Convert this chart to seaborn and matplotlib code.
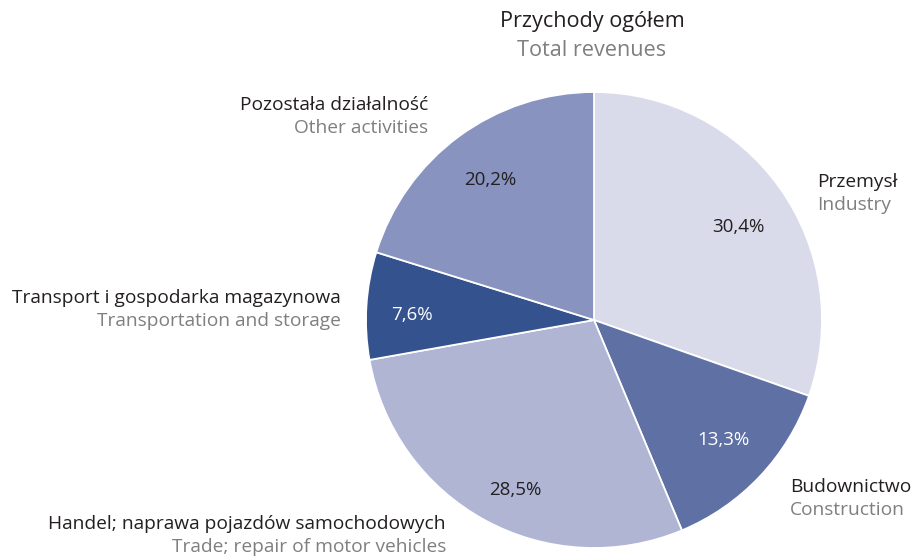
import matplotlib
matplotlib.use("Agg")
import matplotlib.pyplot as plt
import seaborn as sns

# dane
kategorie_pl = ['Przemysł', 'Budownictwo', 'Handel; naprawa pojazdów samochodowych',
                'Transport i gospodarka magazynowa', 'Pozostała działalność']
kategorie_en = ['Industry', 'Construction', 'Trade; repair of motor vehicles',
                'Transportation and storage', 'Other activities']
udzialy = [30.4, 13.3, 28.5, 7.6, 20.2]
kolory = ['#d9dbea', '#5f71a4', '#b0b5d4', '#33528e', '#8893bf']
kolor_pct = ['#231f20', 'white', '#231f20', 'white', '#231f20']

sns.set_style("white")
plt.rcParams['font.family'] = ['Open Sans', 'DejaVu Sans']

W, H = 915, 558
cx, cy, R = 594, 320, 228

fig = plt.figure(figsize=(W / 100, H / 100), dpi=100)
ax = fig.add_axes([(cx - R) / W, (H - cy - R) / H, 2 * R / W, 2 * R / H])

wedges, texts, pcts = ax.pie(
    udzialy, colors=kolory, startangle=90, counterclock=False, radius=1,
    autopct=lambda p: f'{p:.1f}%'.replace('.', ','), pctdistance=0.75,
    wedgeprops=dict(edgecolor='white', linewidth=1.3),
    textprops=dict(fontsize=13.5))
ax.set_xlim(-1, 1)
ax.set_ylim(-1, 1)
ax.axis('off')

# pozycje etykiet procentowych (piksele)
pct_pos = [(738, 227), (723, 440), (515, 490), (412, 315), (490, 180)]
for t, (px, py), c in zip(pcts, pct_pos, kolor_pct):
    t.set_position(((px - cx) / R, (cy - py) / R))
    t.set_color(c)

# opisy kategorii (piksele: x, y linii polskiej, wyrownanie)
opis_pos = [(817, 182, 'left'), (790, 487, 'left'), (446, 524, 'right'),
            (341, 298, 'right'), (428, 105, 'right')]
for pl, en, (px, py, ha) in zip(kategorie_pl, kategorie_en, opis_pos):
    fig.text(px / W, 1 - py / H, pl, ha=ha, va='center', fontsize=13.8, color='#231f20')
    fig.text(px / W, 1 - (py + 23) / H, en, ha=ha, va='center', fontsize=13.8, color='#7f7f7f')

fig.text(592 / W, 1 - 22 / H, 'Przychody ogółem', ha='center', va='center',
         fontsize=15.6, color='#231f20')
fig.text(592 / W, 1 - 50 / H, 'Total revenues', ha='center', va='center',
         fontsize=15.6, color='#7f7f7f')

fig.savefig('out.png', dpi=100)
